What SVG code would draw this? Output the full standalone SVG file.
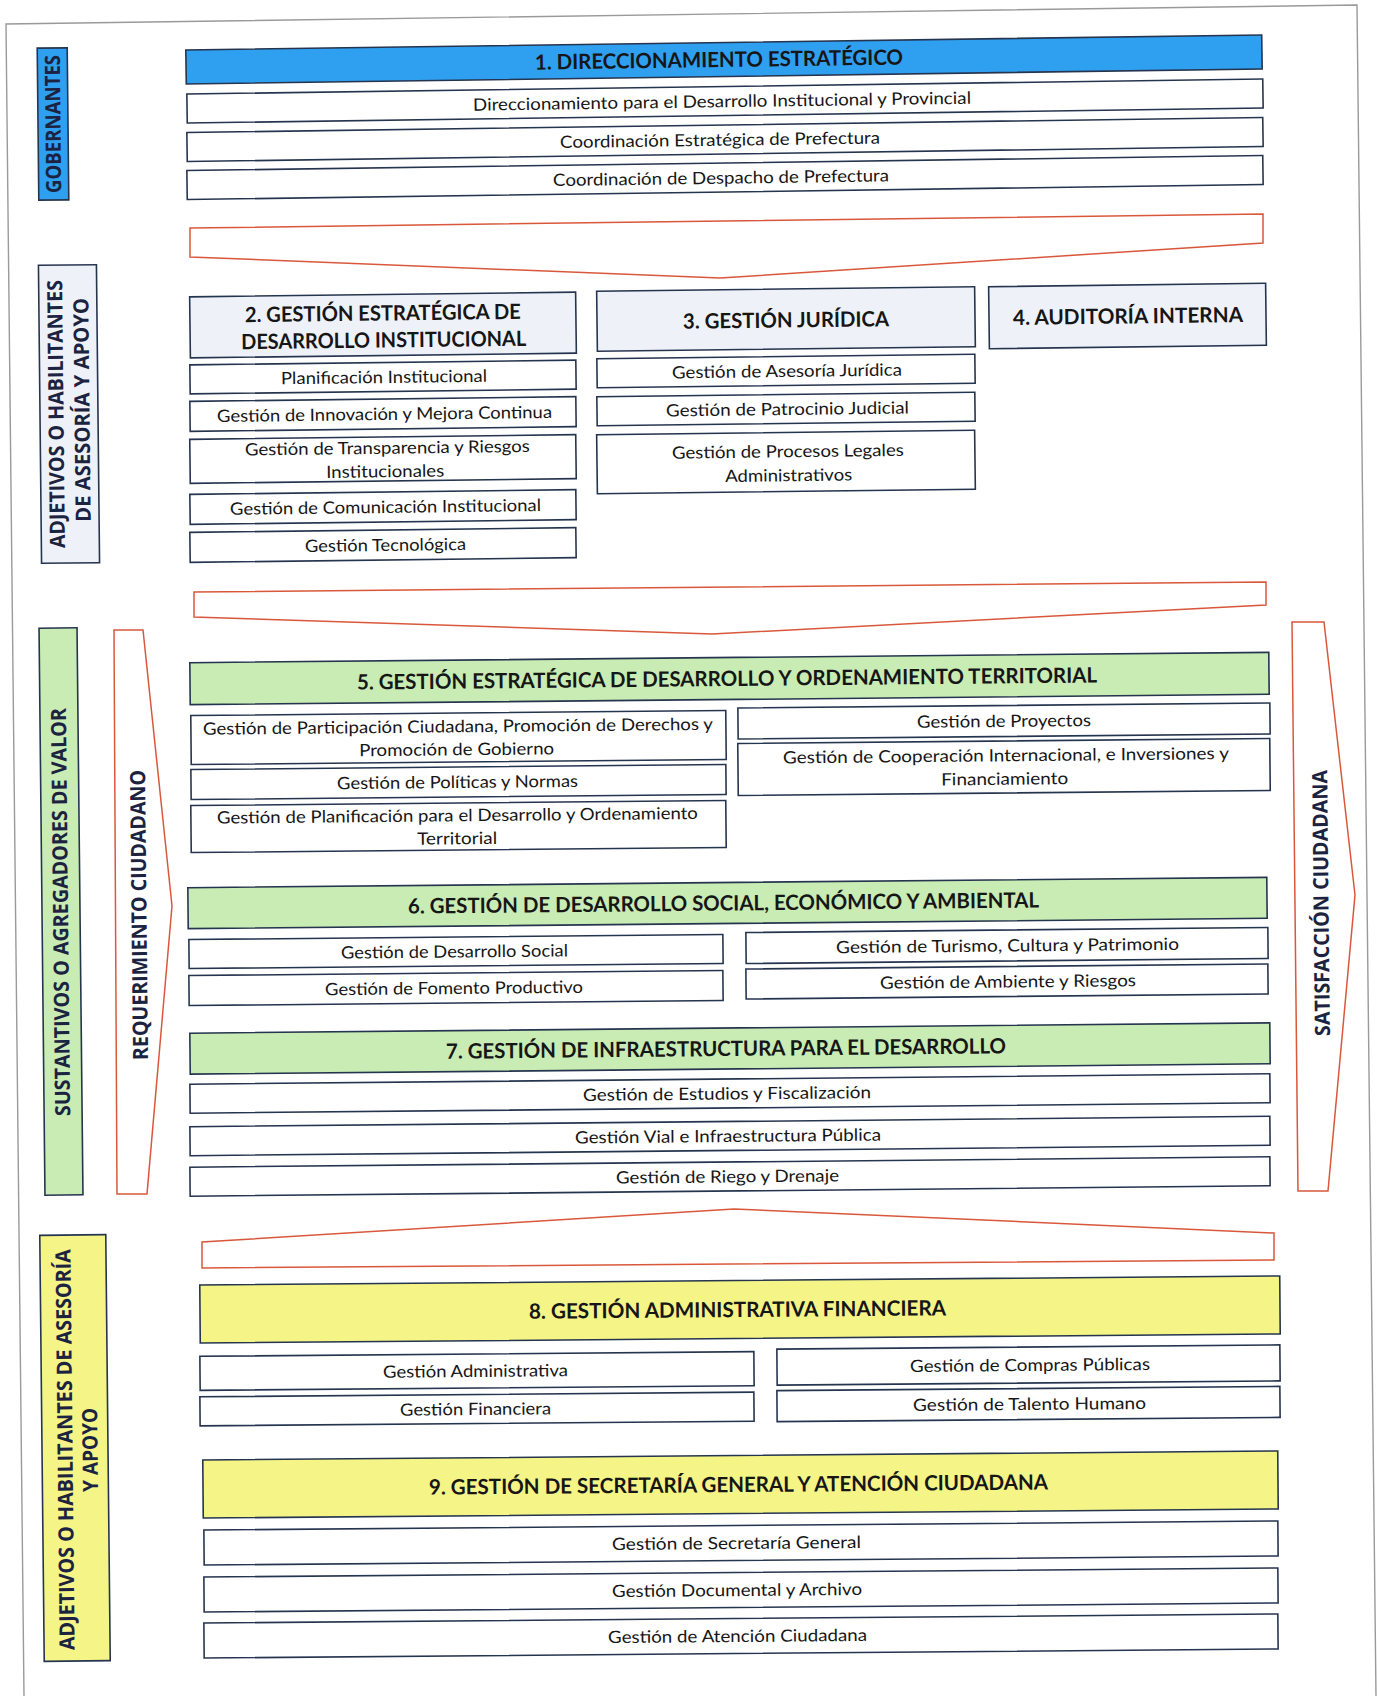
<svg xmlns="http://www.w3.org/2000/svg" width="1377" height="1696" viewBox="0 0 1377 1696">
<style>
.b{fill:#fff;stroke:#26354f;stroke-width:1.6}
.blue{fill:#2f9ff0}
.lb{fill:#eef2f8}
.gr{fill:#c8ecb4}
.ye{fill:#f4f487}
.t{font-family:Lato,"Liberation Sans",sans-serif;font-size:17px;fill:#161616;text-anchor:middle}
.th{font-family:Lato,"Liberation Sans",sans-serif;font-weight:700;font-size:21px;fill:#161616;text-anchor:middle}
.sd{font-family:"Open Sans","Liberation Sans",sans-serif;font-weight:700;font-size:21px;fill:#1c2340;text-anchor:middle}
.chev{fill:#fff;stroke:#d9583b;stroke-width:1.5;stroke-linejoin:miter}
.frame{fill:none;stroke:#9a9a9a;stroke-width:1.4}
</style>
<rect width="1377" height="1696" fill="#fff"/>
<path class="frame" d="M 24 1696 L 6 24 L 1357 5 L 1376 1696"/>

<g id="connectors">
<polygon class="chev" points="190,228 1263,214 1263,243 720,278 190,257"/>
<polygon class="chev" points="194,592 1266,582 1266,605 712,634 194,617"/>
<polygon class="chev" points="202,1268 202,1242 734,1209 1274,1233 1274,1260"/>
<polygon class="chev" points="114,630 143,630 172,906 147,1194 117,1194"/>
<polygon class="chev" points="1292,622 1324,622 1355,895 1328,1191 1298,1191"/>
</g>

<g id="lbl-gobernantes" transform="rotate(-0.6 53 124)">
<rect class="b blue" x="38" y="48" width="30" height="152"/>
<text class="sd" transform="translate(53 124) rotate(-90)" x="0" y="7.5" textLength="138" lengthAdjust="spacingAndGlyphs">GOBERNANTES</text>
</g>
<g id="lbl-adjetivos1" transform="rotate(-0.6 69 414)">
<rect class="b lb" x="40" y="265" width="58" height="298"/>
<text class="sd" transform="translate(69 414) rotate(-90)" x="0" y="-5.5" textLength="268" lengthAdjust="spacingAndGlyphs">ADJETIVOS O HABILITANTES</text>
<text class="sd" transform="translate(69 414) rotate(-90)" x="4" y="20.5" textLength="224" lengthAdjust="spacingAndGlyphs">DE ASESORÍA Y APOYO</text>
</g>
<g id="lbl-sustantivos" transform="rotate(-0.6 61 911.5)">
<rect class="b gr" x="42" y="628" width="38" height="567"/>
<text class="sd" transform="translate(61 911.5) rotate(-90)" x="-0.5" y="7" textLength="408" lengthAdjust="spacingAndGlyphs">SUSTANTIVOS O AGREGADORES DE VALOR</text>
</g>
<g id="lbl-adjetivos2" transform="rotate(-0.6 75 1447.5)">
<rect class="b ye" x="42" y="1235" width="66" height="426"/>
<text class="sd" transform="translate(75 1447.5) rotate(-90)" x="-2" y="-2.5" textLength="401" lengthAdjust="spacingAndGlyphs">ADJETIVOS O HABILITANTES DE ASESORÍA</text>
<text class="sd" transform="translate(75 1447.5) rotate(-90)" x="-2.5" y="22.5" textLength="84" lengthAdjust="spacingAndGlyphs">Y APOYO</text>
</g>
<g id="lbl-requerimiento" transform="rotate(-0.6 139 915)">
<text class="sd" transform="translate(139 915) rotate(-90)" x="0" y="7.5" textLength="290" lengthAdjust="spacingAndGlyphs">REQUERIMIENTO CIUDADANO</text>
</g>
<g id="lbl-satisfaccion" transform="rotate(-0.6 1321 903)">
<text class="sd" transform="translate(1321 903) rotate(-90)" x="0" y="7.5" textLength="266" lengthAdjust="spacingAndGlyphs">SATISFACCIÓN CIUDADANA</text>
</g>

<!-- Section 1 -->
<g id="n1-head" transform="rotate(-0.8 724 59.5)">
<rect class="b blue" x="186" y="42.5" width="1076" height="34"/>
<text class="th" x="719" y="67" textLength="368" lengthAdjust="spacingAndGlyphs">1. DIRECCIONAMIENTO ESTRATÉGICO</text>
</g>
<g id="n1-a" transform="rotate(-0.8 725 101)">
<rect class="b" x="187" y="86.5" width="1076" height="29"/>
<text class="t" x="722" y="107.2" textLength="498" lengthAdjust="spacingAndGlyphs">Direccionamiento para el Desarrollo Institucional y Provincial</text>
</g>
<g id="n1-b" transform="rotate(-0.8 725 139.5)">
<rect class="b" x="187" y="125" width="1076" height="29"/>
<text class="t" x="720" y="145.7" textLength="320" lengthAdjust="spacingAndGlyphs">Coordinación Estratégica de Prefectura</text>
</g>
<g id="n1-c" transform="rotate(-0.8 725 177.5)">
<rect class="b" x="187" y="163" width="1076" height="29"/>
<text class="t" x="721" y="183.7" textLength="336" lengthAdjust="spacingAndGlyphs">Coordinación de Despacho de Prefectura</text>
</g>

<!-- Section 2 -->
<g id="n2-head" transform="rotate(-0.7 383 325)">
<rect class="b lb" x="190" y="294.5" width="386" height="61"/>
<text class="th" x="383" y="320.5" textLength="276" lengthAdjust="spacingAndGlyphs">2. GESTIÓN ESTRATÉGICA DE</text>
<text class="th" x="383.5" y="347.5" textLength="285" lengthAdjust="spacingAndGlyphs">DESARROLLO INSTITUCIONAL</text>
</g>
<g id="n2-a" transform="rotate(-0.7 383 377)">
<rect class="b" x="190" y="362.5" width="386" height="29"/>
<text class="t" x="384" y="383" textLength="206" lengthAdjust="spacingAndGlyphs">Planificación Institucional</text>
</g>
<g id="n2-b" transform="rotate(-0.7 383 414)">
<rect class="b" x="190" y="399" width="386" height="30"/>
<text class="t" x="384.5" y="420" textLength="335" lengthAdjust="spacingAndGlyphs">Gestión de Innovación y Mejora Continua</text>
</g>
<g id="n2-c" transform="rotate(-0.7 383 459)">
<rect class="b" x="190" y="437" width="386" height="44"/>
<text class="t" x="387.5" y="453.8" textLength="285" lengthAdjust="spacingAndGlyphs">Gestión de Transparencia y Riesgos</text>
<text class="t" x="385" y="477.3" textLength="118" lengthAdjust="spacingAndGlyphs">Institucionales</text>
</g>
<g id="n2-d" transform="rotate(-0.7 383 507)">
<rect class="b" x="190" y="492" width="386" height="30"/>
<text class="t" x="385.5" y="513" textLength="311" lengthAdjust="spacingAndGlyphs">Gestión de Comunicación Institucional</text>
</g>
<g id="n2-e" transform="rotate(-0.7 383 545)">
<rect class="b" x="190" y="530" width="386" height="30"/>
<text class="t" x="385.5" y="551" textLength="161" lengthAdjust="spacingAndGlyphs">Gestión Tecnológica</text>
</g>

<!-- Section 3 -->
<g id="n3-head" transform="rotate(-0.7 786 319)">
<rect class="b lb" x="597" y="289" width="378" height="60"/>
<text class="th" x="786" y="327.5" textLength="206" lengthAdjust="spacingAndGlyphs">3. GESTIÓN JURÍDICA</text>
</g>
<g id="n3-a" transform="rotate(-0.7 786 371)">
<rect class="b" x="597" y="356.5" width="378" height="29"/>
<text class="t" x="787" y="377" textLength="230" lengthAdjust="spacingAndGlyphs">Gestión de Asesoría Jurídica</text>
</g>
<g id="n3-b" transform="rotate(-0.7 786 409)">
<rect class="b" x="597" y="394.5" width="378" height="29"/>
<text class="t" x="787.5" y="415" textLength="243" lengthAdjust="spacingAndGlyphs">Gestión de Patrocinio Judicial</text>
</g>
<g id="n3-c" transform="rotate(-0.7 786 462)">
<rect class="b" x="597" y="432.5" width="378" height="59"/>
<text class="t" x="788" y="457.3" textLength="232" lengthAdjust="spacingAndGlyphs">Gestión de Procesos Legales</text>
<text class="t" x="788.5" y="481.3" textLength="127" lengthAdjust="spacingAndGlyphs">Administrativos</text>
</g>

<!-- Section 4 -->
<g id="n4-head" transform="rotate(-0.7 1127.5 316)">
<rect class="b lb" x="989" y="285" width="277" height="62"/>
<text class="th" x="1128" y="323.5" textLength="230" lengthAdjust="spacingAndGlyphs">4. AUDITORÍA INTERNA</text>
</g>

<!-- Section 5 -->
<g id="n5-head" transform="rotate(-0.55 729.5 678.5)">
<rect class="b gr" x="190" y="657.5" width="1079" height="42"/>
<text class="th" x="727" y="686" textLength="740" lengthAdjust="spacingAndGlyphs">5. GESTIÓN ESTRATÉGICA DE DESARROLLO Y ORDENAMIENTO TERRITORIAL</text>
</g>
<g id="n5-a" transform="rotate(-0.55 458.5 737.5)">
<rect class="b" x="191" y="713" width="535" height="49"/>
<text class="t" x="458" y="732.3" textLength="510" lengthAdjust="spacingAndGlyphs">Gestión de Participación Ciudadana, Promoción de Derechos  y</text>
<text class="t" x="456.5" y="755.3" textLength="195" lengthAdjust="spacingAndGlyphs">Promoción de Gobierno</text>
</g>
<g id="n5-b" transform="rotate(-0.55 458.5 782)">
<rect class="b" x="191" y="767" width="535" height="30"/>
<text class="t" x="457.5" y="788" textLength="241" lengthAdjust="spacingAndGlyphs">Gestión de Políticas y Normas</text>
</g>
<g id="n5-c" transform="rotate(-0.55 458.5 826.5)">
<rect class="b" x="191" y="803" width="535" height="47"/>
<text class="t" x="457.5" y="821.3" textLength="481" lengthAdjust="spacingAndGlyphs">Gestión de Planificación para el Desarrollo y Ordenamiento</text>
<text class="t" x="457" y="844.3" textLength="80" lengthAdjust="spacingAndGlyphs">Territorial</text>
</g>
<g id="n5-d" transform="rotate(-0.55 1004 721)">
<rect class="b" x="738" y="705.5" width="532" height="31"/>
<text class="t" x="1004" y="727" textLength="174" lengthAdjust="spacingAndGlyphs">Gestión de Proyectos</text>
</g>
<g id="n5-e" transform="rotate(-0.55 1004 767)">
<rect class="b" x="738" y="741" width="532" height="52"/>
<text class="t" x="1006" y="761.3" textLength="446" lengthAdjust="spacingAndGlyphs">Gestión de Cooperación Internacional, e Inversiones y</text>
<text class="t" x="1004.5" y="784.8" textLength="127" lengthAdjust="spacingAndGlyphs">Financiamiento</text>
</g>

<!-- Section 6 -->
<g id="n6-head" transform="rotate(-0.55 727.5 903)">
<rect class="b gr" x="188" y="882.5" width="1079" height="41"/>
<text class="th" x="723.5" y="910.5" textLength="631" lengthAdjust="spacingAndGlyphs">6. GESTIÓN DE DESARROLLO SOCIAL, ECONÓMICO Y AMBIENTAL</text>
</g>
<g id="n6-a" transform="rotate(-0.55 456 951.5)">
<rect class="b" x="189" y="937" width="534" height="29"/>
<text class="t" x="454.5" y="957.5" textLength="227" lengthAdjust="spacingAndGlyphs">Gestión de Desarrollo Social</text>
</g>
<g id="n6-b" transform="rotate(-0.55 456 988)">
<rect class="b" x="189" y="973" width="534" height="30"/>
<text class="t" x="454" y="994" textLength="258" lengthAdjust="spacingAndGlyphs">Gestión de Fomento Productivo</text>
</g>
<g id="n6-c" transform="rotate(-0.55 1007 945.5)">
<rect class="b" x="746" y="930" width="522" height="31"/>
<text class="t" x="1007.5" y="951.5" textLength="343" lengthAdjust="spacingAndGlyphs">Gestión de Turismo, Cultura y Patrimonio</text>
</g>
<g id="n6-d" transform="rotate(-0.55 1007 981.5)">
<rect class="b" x="746" y="966.5" width="522" height="30"/>
<text class="t" x="1008" y="987.5" textLength="256" lengthAdjust="spacingAndGlyphs">Gestión de Ambiente y Riesgos</text>
</g>

<!-- Section 7 -->
<g id="n7-head" transform="rotate(-0.55 730 1048.5)">
<rect class="b gr" x="190" y="1028" width="1080" height="41"/>
<text class="th" x="726" y="1056" textLength="560" lengthAdjust="spacingAndGlyphs">7. GESTIÓN DE INFRAESTRUCTURA PARA EL DESARROLLO</text>
</g>
<g id="n7-a" transform="rotate(-0.55 730 1093.5)">
<rect class="b" x="190" y="1079" width="1080" height="29"/>
<text class="t" x="727" y="1099.5" textLength="288" lengthAdjust="spacingAndGlyphs">Gestión de Estudios  y Fiscalización</text>
</g>
<g id="n7-b" transform="rotate(-0.55 730 1136)">
<rect class="b" x="190" y="1121.5" width="1080" height="29"/>
<text class="t" x="728" y="1142" textLength="306" lengthAdjust="spacingAndGlyphs">Gestión Vial e Infraestructura Pública</text>
</g>
<g id="n7-c" transform="rotate(-0.55 730 1176.5)">
<rect class="b" x="190" y="1162" width="1080" height="29"/>
<text class="t" x="727.5" y="1182.5" textLength="223" lengthAdjust="spacingAndGlyphs">Gestión de Riego y Drenaje</text>
</g>

<!-- Section 8 -->
<g id="n8-head" transform="rotate(-0.48 740 1309.5)">
<rect class="b ye" x="200" y="1280.5" width="1080" height="58"/>
<text class="th" x="737.5" y="1317" textLength="417" lengthAdjust="spacingAndGlyphs">8. GESTIÓN ADMINISTRATIVA FINANCIERA</text>
</g>
<g id="n8-a" transform="rotate(-0.48 477 1371)">
<rect class="b" x="200" y="1354" width="554" height="34"/>
<text class="t" x="475.5" y="1377" textLength="185" lengthAdjust="spacingAndGlyphs">Gestión Administrativa</text>
</g>
<g id="n8-b" transform="rotate(-0.48 477 1409)">
<rect class="b" x="200" y="1394.5" width="554" height="29"/>
<text class="t" x="475.5" y="1415" textLength="151" lengthAdjust="spacingAndGlyphs">Gestión Financiera</text>
</g>
<g id="n8-c" transform="rotate(-0.48 1028.5 1365)">
<rect class="b" x="777" y="1347" width="503" height="36"/>
<text class="t" x="1030" y="1371" textLength="240" lengthAdjust="spacingAndGlyphs">Gestión de Compras Públicas</text>
</g>
<g id="n8-d" transform="rotate(-0.48 1028.5 1404)">
<rect class="b" x="777" y="1388.5" width="503" height="31"/>
<text class="t" x="1029.5" y="1410" textLength="233" lengthAdjust="spacingAndGlyphs">Gestión de Talento Humano</text>
</g>

<!-- Section 9 -->
<g id="n9-head" transform="rotate(-0.48 740.5 1484.5)">
<rect class="b ye" x="203" y="1455.5" width="1075" height="58"/>
<text class="th" x="738.5" y="1492" textLength="619" lengthAdjust="spacingAndGlyphs">9. GESTIÓN DE SECRETARÍA GENERAL Y ATENCIÓN CIUDADANA</text>
</g>
<g id="n9-a" transform="rotate(-0.48 741 1543)">
<rect class="b" x="204" y="1525.5" width="1074" height="35"/>
<text class="t" x="736.5" y="1549" textLength="249" lengthAdjust="spacingAndGlyphs">Gestión de Secretaría General</text>
</g>
<g id="n9-b" transform="rotate(-0.48 741 1590)">
<rect class="b" x="204" y="1572.5" width="1074" height="35"/>
<text class="t" x="737" y="1596" textLength="250" lengthAdjust="spacingAndGlyphs">Gestión Documental y Archivo</text>
</g>
<g id="n9-c" transform="rotate(-0.48 741 1636)">
<rect class="b" x="204" y="1618.5" width="1074" height="35"/>
<text class="t" x="737.5" y="1642" textLength="259" lengthAdjust="spacingAndGlyphs">Gestión de Atención Ciudadana</text>
</g>
</svg>
